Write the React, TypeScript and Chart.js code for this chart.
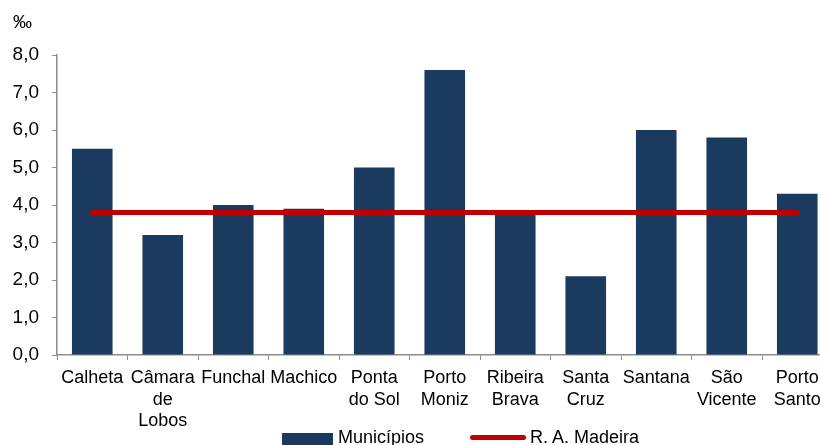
import React, { useEffect, useRef } from "react";
import { Chart, registerables } from "chart.js";

Chart.register(...registerables);

const categories: (string | string[])[] = [
  "Calheta",
  ["Câmara", "de", "Lobos"],
  "Funchal",
  "Machico",
  ["Ponta", "do Sol"],
  ["Porto", "Moniz"],
  ["Ribeira", "Brava"],
  ["Santa", "Cruz"],
  "Santana",
  ["São", "Vicente"],
  ["Porto", "Santo"],
];
const municipios = [5.5, 3.2, 4.0, 3.9, 5.0, 7.6, 3.8, 2.1, 6.0, 5.8, 4.3];
const madeiraValue = 3.8;
const madeira = categories.map(() => madeiraValue);
const yMin = 0;
const yMax = 8;
const yStep = 1;
const unitLabel = "‰";
const seriesNames = ["Municípios", "R. A. Madeira"];

const NAVY = "#1B3A60";
const RED = "#C00000";
const AXIS = "#8C8C8C";
const FONT = "'Liberation Sans', Arial, sans-serif";

export default function App() {
  const ref = useRef<HTMLCanvasElement | null>(null);
  useEffect(() => {
    if (!ref.current) return;
    const chart = new Chart(ref.current, {
      type: "bar",
      data: {
        labels: categories,
        datasets: [
          {
            type: "line",
            label: seriesNames[1],
            data: madeira,
            borderColor: RED,
            backgroundColor: RED,
            borderWidth: 5,
            pointRadius: 0,
            borderCapStyle: "round",
            order: 0,
          } as any,
          {
            type: "bar",
            label: seriesNames[0],
            data: municipios,
            backgroundColor: NAVY,
            borderWidth: 0,
            barPercentage: 0.576,
            categoryPercentage: 1,
            order: 1,
          },
        ],
      },
      options: {
        responsive: false,
        animation: false,
        layout: { padding: { top: 55, left: 0, right: 7.5, bottom: 0 } },
        plugins: {
          legend: { display: false },
          tooltip: { enabled: false },
        },
        scales: {
          x: {
            offset: true,
            afterFit: (s: any) => {
              s.height = 95;
            },
            grid: {
              offset: true,
              drawOnChartArea: false,
              drawTicks: true,
              tickLength: 5,
              color: AXIS,
            },
            border: { color: AXIS, width: 1.5 },
            ticks: {
              color: "#000",
              font: { family: FONT, size: 18, lineHeight: 1.17 },
              maxRotation: 0,
              autoSkip: false,
              padding: 8,
            },
          },
          y: {
            min: yMin,
            max: yMax,
            afterFit: (s: any) => {
              s.width = 57;
            },
            grid: {
              drawOnChartArea: false,
              drawTicks: true,
              tickLength: 5,
              color: AXIS,
            },
            border: { color: AXIS, width: 1.5 },
            ticks: {
              stepSize: yStep,
              color: "#000",
              font: { family: FONT, size: 19 },
              padding: 13,
              callback: (v: any) => Number(v).toFixed(1).replace(".", ","),
            },
          },
        },
      },
    });
    return () => chart.destroy();
  }, []);

  const textStyle: React.CSSProperties = {
    position: "absolute",
    fontFamily: FONT,
    fontSize: 18,
    lineHeight: "18px",
    color: "#000",
    whiteSpace: "nowrap",
  };

  return (
    <div
      style={{
        position: "fixed",
        left: 0,
        top: 0,
        width: 820,
        height: 445,
        overflow: "hidden",
        background: "#fff",
      }}
    >
      <canvas
        ref={ref}
        width={840}
        height={450}
        style={{ position: "absolute", left: 0, top: 0, width: 840, height: 450 }}
      />
      <div style={{ ...textStyle, left: 13, top: 13, fontSize: 19 }}>{unitLabel}</div>
      <div
        style={{
          position: "absolute",
          left: 282,
          top: 433,
          width: 51,
          height: 12,
          background: NAVY,
        }}
      />
      <div style={{ ...textStyle, left: 338, top: 428 }}>{seriesNames[0]}</div>
      <div
        style={{
          position: "absolute",
          left: 470,
          top: 435,
          width: 56,
          height: 5,
          borderRadius: 3,
          background: RED,
        }}
      />
      <div style={{ ...textStyle, left: 530, top: 428 }}>{seriesNames[1]}</div>
    </div>
  );
}
